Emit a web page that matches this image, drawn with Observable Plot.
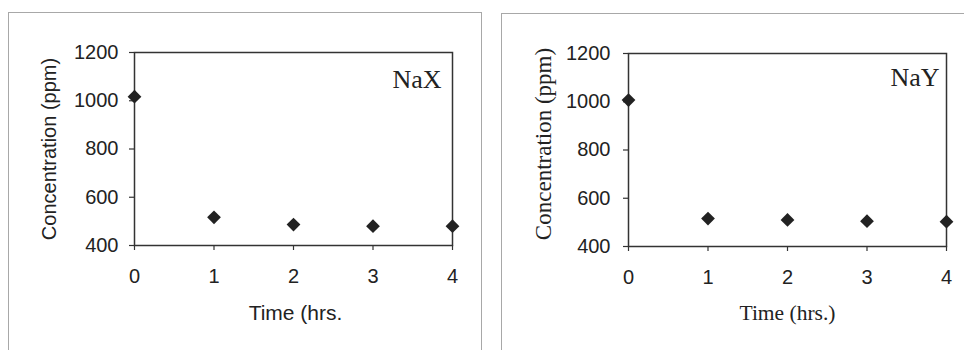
<!DOCTYPE html>
<html><head><meta charset="utf-8">
<script src="https://cdn.jsdelivr.net/npm/d3@7"></script>
<script src="https://cdn.jsdelivr.net/npm/@observablehq/plot@0.6"></script>
<style>
html,body{margin:0;padding:0;background:#fff;}
#wrap{position:relative;width:964px;height:350px;overflow:hidden;background:#fff;}
.panel{position:absolute;border:1px solid #a8a8a8;box-sizing:border-box;}
.chart{position:absolute;top:0;}
</style></head><body>
<div id="wrap">
 <div class="panel" style="left:8px;top:12px;width:474px;height:400px"></div>
 <div class="panel" style="left:501px;top:13px;width:500px;height:400px"></div>
 <div id="c1" class="chart" style="left:0px"></div>
 <div id="c2" class="chart" style="left:482px"></div>
</div>
<script>
const hours = [0, 1, 2, 3, 4];
const naX = [1017, 517, 487, 480, 480];
const naY = [1007, 516, 510, 505, 503];
const yTicks = [400, 600, 800, 1000, 1200];
const xTicks = [0, 1, 2, 3, 4];
const yLabel = "Concentration (ppm)";
const xLabelLeft = "Time (hrs.";
const xLabelRight = "Time (hrs.)";
const nameLeft = "NaX";
const nameRight = "NaY";

function panel(values, o) {
  const data = hours.map((h, i) => ({h, c: values[i]}));
  return Plot.plot({
    width: 482, height: 350,
    marginLeft: o.ml, marginRight: o.mr, marginTop: o.mt, marginBottom: o.mb,
    style: {background: "none", fontFamily: "'Liberation Sans', Arial, sans-serif", color: "#222"},
    x: {domain: [0, 4], axis: null},
    y: {domain: [400, 1200], axis: null},
    marks: [
      Plot.frame({stroke: "#333", strokeWidth: 1.5}),
      Plot.axisY(yTicks, {tickSize: 5, tickPadding: o.ytp, fontSize: 20, label: null, tickFormat: d => String(d), stroke: "#333", strokeWidth: 1.2}),
      Plot.axisX(xTicks, {tickSize: 5, tickPadding: 18, fontSize: 20, label: null, tickFormat: d => String(d), stroke: "#333", strokeWidth: 1.2}),
      Plot.dot(data, {x: "h", y: "c", symbol: "diamond2", r: 6.2, fill: "#222", stroke: "none"}),
      Plot.text([yLabel], {text: d => d, frameAnchor: "left", textAnchor: "middle", lineAnchor: "middle", rotate: -90, dx: o.ylDx, dy: o.ylDy,
        fontSize: o.ylSize, fontFamily: o.ylFont, fill: "#222"}),
      Plot.text([o.xLabel], {text: d => d, frameAnchor: "bottom", textAnchor: "middle", lineAnchor: "middle", dx: o.xlDx, dy: o.xlDy,
        fontSize: o.xlSize, fontFamily: o.xlFont, fill: "#222"}),
      Plot.text([o.name], {text: d => d, frameAnchor: "top-right", textAnchor: "end", lineAnchor: "top",
        dx: o.nDx, dy: o.nDy, fontSize: 26, fontFamily: "'Liberation Serif', 'Times New Roman', serif", fill: "#222"})
    ]
  });
}

document.getElementById("c1").append(panel(naX, {
  ml: 134, mr: 30, mt: 52, mb: 105, ytp: 11,
  ylDx: -84.5, ylDy: 0, ylSize: 20, ylFont: "'Liberation Sans', Arial, sans-serif",
  xLabel: xLabelLeft, xlDx: 2, xlDy: 68, xlSize: 21, xlFont: "'Liberation Sans', Arial, sans-serif",
  name: nameLeft, nDx: -11, nDy: 17
}));
document.getElementById("c2").append(panel(naY, {
  ml: 146, mr: 18, mt: 53, mb: 104, ytp: 13,
  ylDx: -85, ylDy: -6, ylSize: 23, ylFont: "'Liberation Serif', 'Times New Roman', serif",
  xLabel: xLabelRight, xlDx: 0, xlDy: 67, xlSize: 21.5, xlFont: "'Liberation Serif', 'Times New Roman', serif",
  name: nameRight, nDx: -7, nDy: 14
}));
</script>
</body></html>
